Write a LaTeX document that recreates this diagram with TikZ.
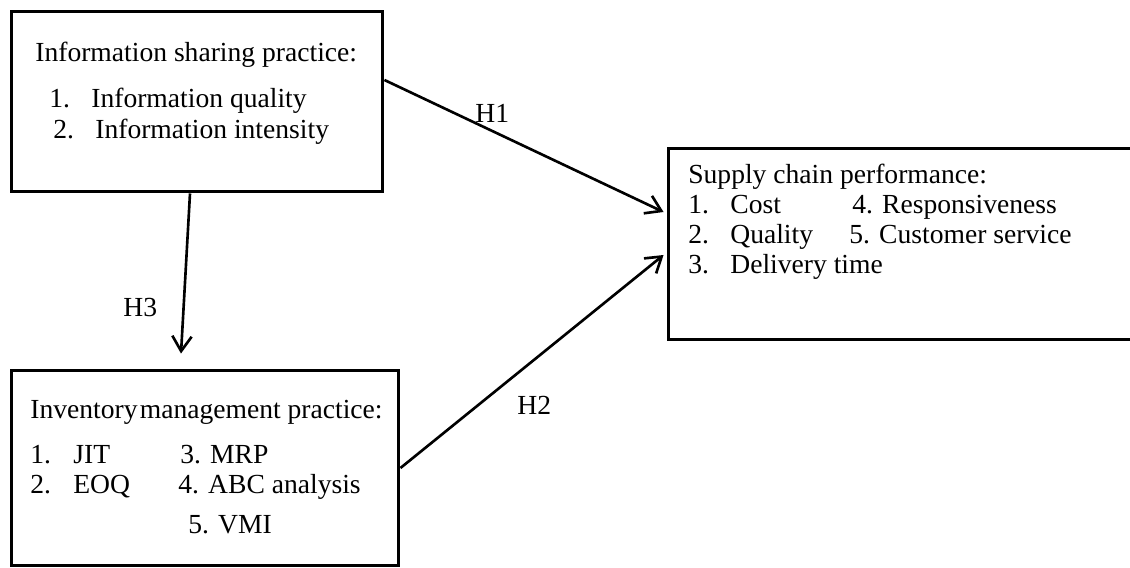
\documentclass[tikz,border=0pt]{standalone}
\usepackage{fontspec}
\setmainfont{Liberation Serif}
\usetikzlibrary{arrows.meta}

\begin{document}
\begin{tikzpicture}[x=0.02cm,y=-0.02cm,
			box/.style={draw,rectangle,line width=1.7pt,inner sep=0pt},
			txt/.style={anchor=base west,inner sep=0pt,font=\fontsize{15.7}{19}\selectfont},
			link/.style={line width=1.5pt,-{Straight Barb[length=8.5pt,width=11pt,line width=1.5pt]}}]
			\useasboundingbox (0,0) rectangle (1130,568);
			\clip (0,0) rectangle (1130,568);
			% the three constructs
			\node (isp) [box,minimum width=7.44cm,minimum height=3.62cm] at (197,101.5) {};
			\node (inv) [box,minimum width=7.76cm,minimum height=3.92cm] at (205,468) {};
			\node (scp) [box,minimum width=9.7cm,minimum height=3.84cm] at (910.5,244) {};

			\node (ispt) [txt] at (35,61) {Information sharing practice:};
			\node (isp1n) [txt] at (49,107) {1.};
			\node (isp1) [txt] at (91,107) {Information quality};
			\node (isp2n) [txt] at (53,138) {2.};
			\node (isp2) [txt] at (95,138) {Information intensity};

			\node (invt) [txt] at (30,418) {Inventory\hspace{0.08em}management practice:};
			\node (inv1n) [txt] at (30,463) {1.};
			\node (inv1) [txt] at (73,463) {JIT};
			\node (inv2n) [txt] at (30,493) {2.};
			\node (inv2) [txt] at (73,493) {EOQ};
			\node (inv3) [txt] at (180,463) {3. MRP};
			\node (inv4) [txt] at (178,493) {4. ABC analysis};
			\node (inv5) [txt] at (188,533) {5. VMI};

			\node (scpt) [txt] at (688,183) {Supply chain performance:};
			\node (scp1n) [txt] at (688,213) {1.};
			\node (scp1) [txt] at (730,213) {Cost};
			\node (scp4) [txt] at (852,213) {4. Responsiveness};
			\node (scp2n) [txt] at (688,243) {2.};
			\node (scp2) [txt] at (730,243) {Quality};
			\node (scp5) [txt] at (849,243) {5. Customer service};
			\node (scp3n) [txt] at (688,273) {3.};
			\node (scp3) [txt] at (730,273) {Delivery time};

			% hypotheses
			\draw [link] ([yshift=0.43cm]isp.east) -- ([xshift=-0.06cm,yshift=0.64cm]scp.west);
			\draw [link] (inv.east) -- ([xshift=-0.06cm,yshift=-0.22cm]scp.west);
			\draw [link] ([xshift=-0.14cm]isp.south) -- ([xshift=-0.48cm,yshift=0.3cm]inv.north);
			\node (h1) [txt] at (475,122) {H1};
			\node (h2) [txt] at (517,414) {H2};
			\node (h3) [txt] at (123,316) {H3};
		\end{tikzpicture}
\end{document}
